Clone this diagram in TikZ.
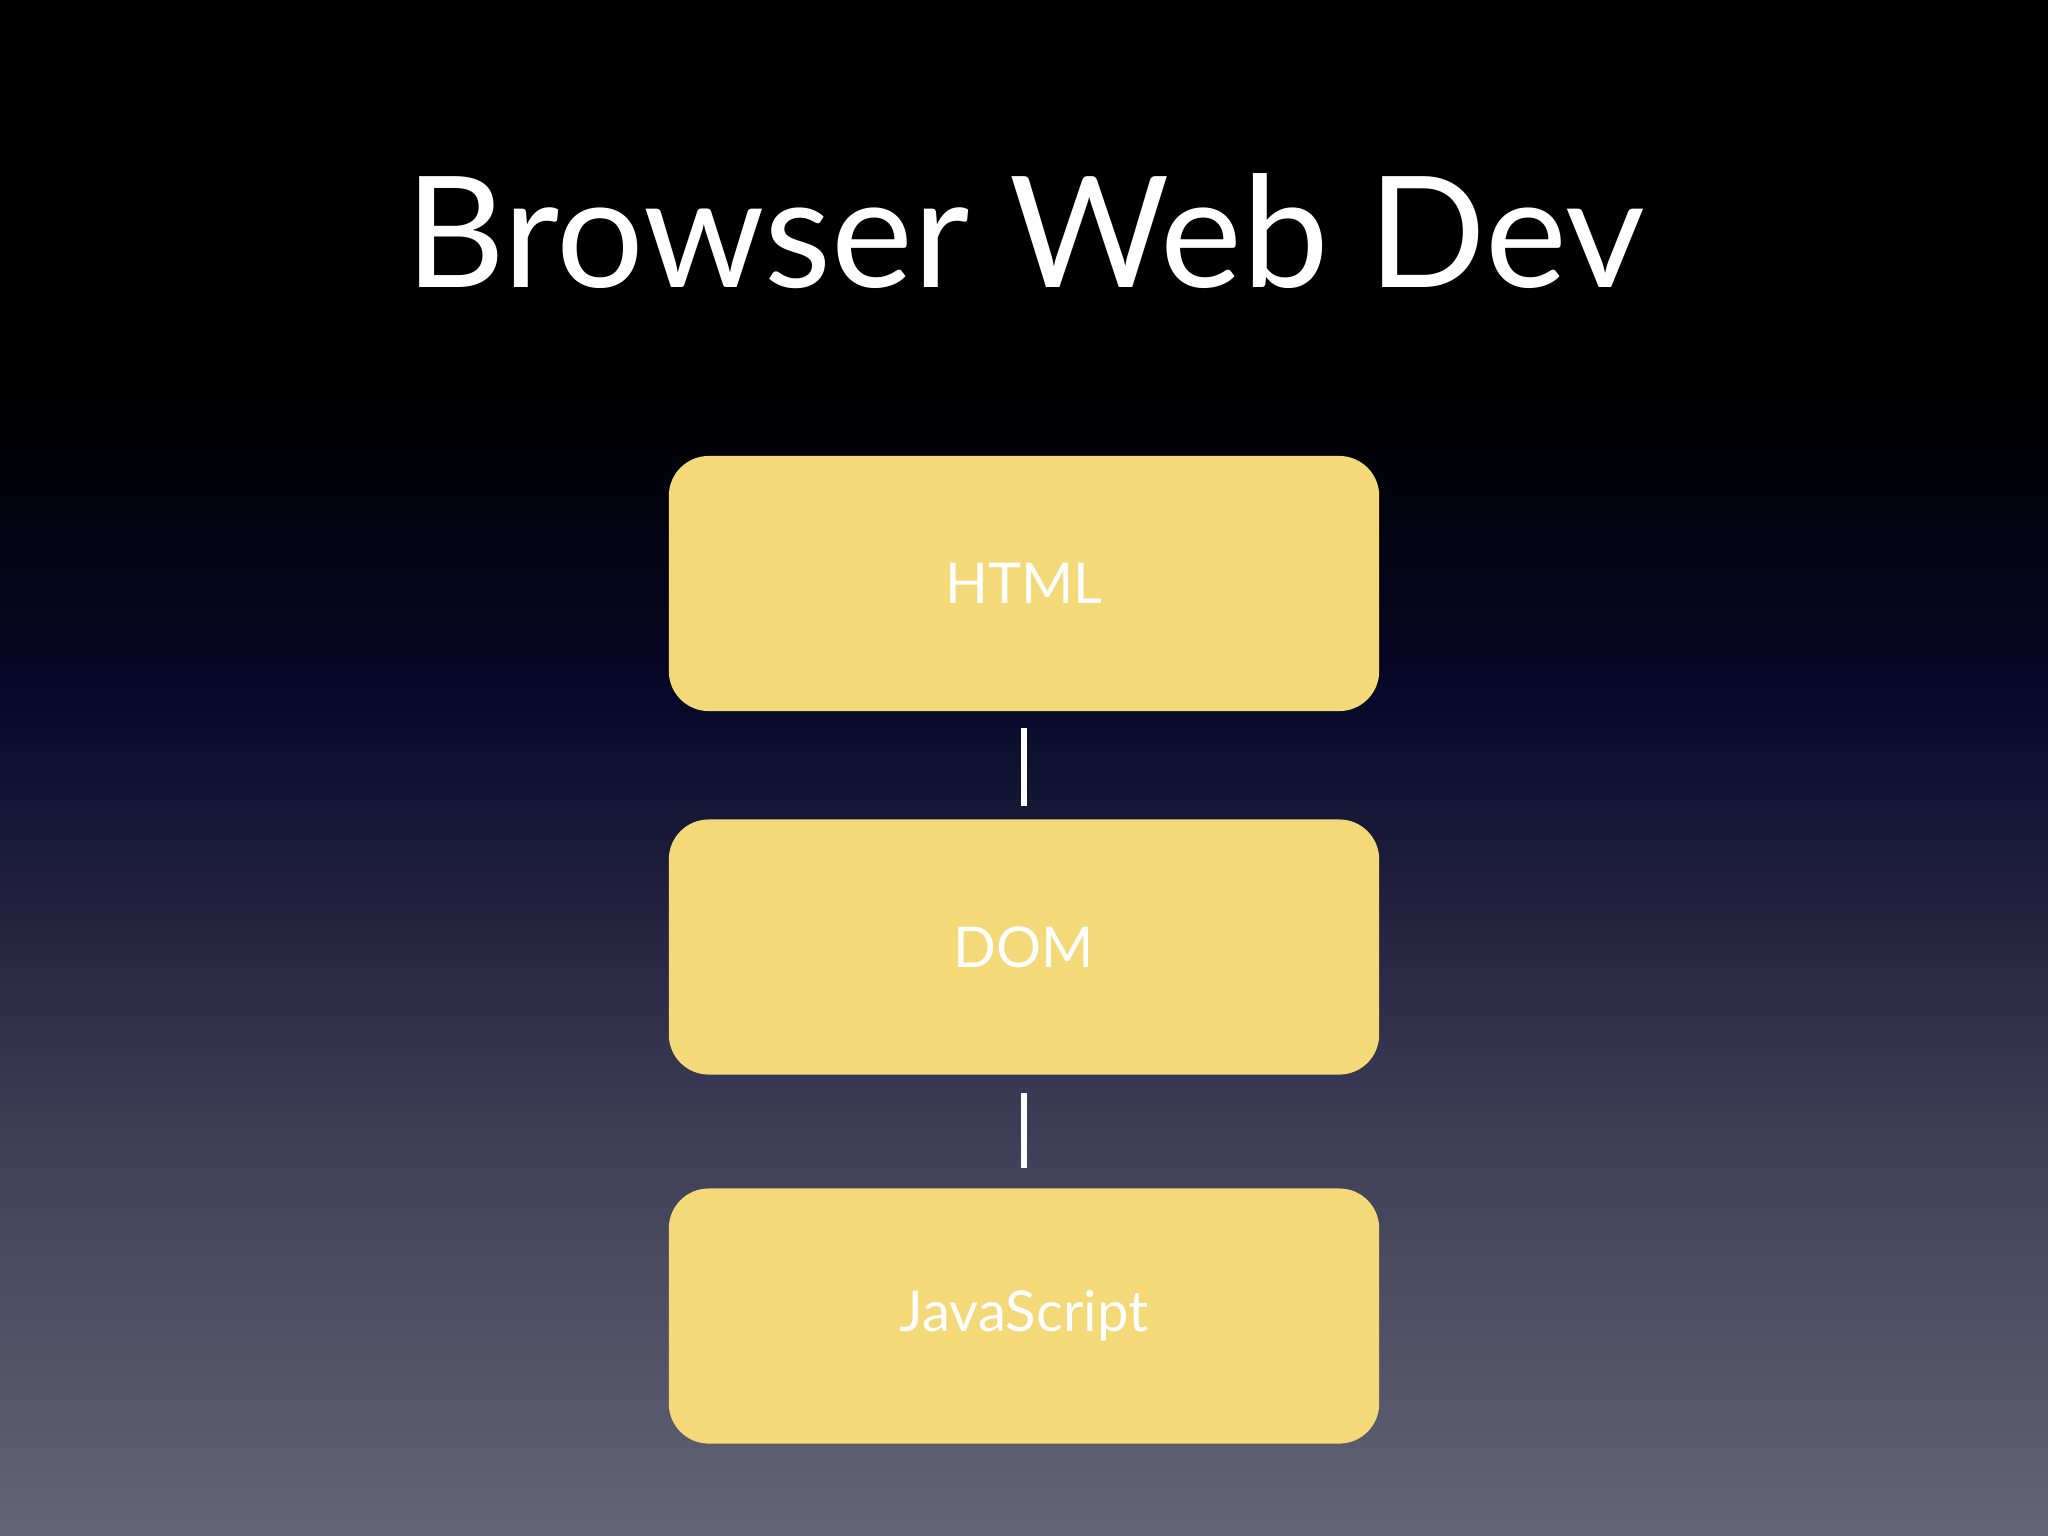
\documentclass[tikz,border=0pt]{standalone}
\usepackage{fontspec}
\setmainfont{Lato}
\definecolor{boxfill}{HTML}{F3D978}
\definecolor{navy}{HTML}{08082A}
\definecolor{midgray}{HTML}{3C3C55}
\definecolor{bottomgray}{HTML}{646476}
\tikzset{
  layerbox/.style={rounded corners=40*0.01cm, fill=boxfill, draw=none,
    minimum width=7.1cm, minimum height=2.55cm, text=white,
    font=\fontsize{16}{19}\selectfont},
  linkline/.style={draw=white, line width=1.6pt}
}
\begin{document}
\begin{tikzpicture}[x=0.01cm,y=-0.01cm]
\useasboundingbox (0,0) rectangle (2048,1536);
\fill[black] (0,0) rectangle (2048,400);
\shade[top color=black, bottom color=navy] (0,399) rectangle (2048,700);
\shade[top color=navy, bottom color=bottomgray, middle color=midgray] (0,699) rectangle (2048,1536);
\node[text=white, font=\fontsize{44}{50}\selectfont, anchor=base] (title) at (1025,287) {Browser Web Dev};
\node[layerbox] (html) at (1024,583.5) {HTML};
\node[layerbox] (dom) at (1024,947) {DOM};
\node[layerbox] (js) at (1024,1316) {JavaScript};
\draw[linkline] ([yshift=-16*0.01cm]html.south) -- ([yshift=13*0.01cm]dom.north);
\draw[linkline] ([yshift=-18*0.01cm]dom.south) -- ([yshift=20*0.01cm]js.north);
\end{tikzpicture}
\end{document}
